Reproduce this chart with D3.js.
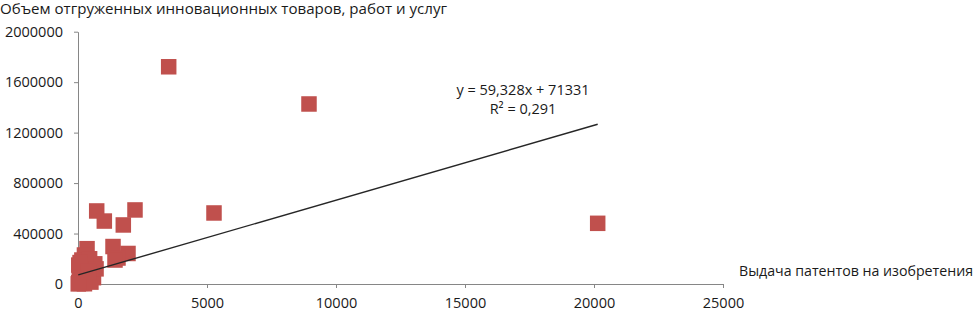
<!DOCTYPE html>
<html lang="ru">
<head>
<meta charset="utf-8">
<title>Scatter</title>
<script src="https://cdn.jsdelivr.net/npm/d3@7"></script>
<style>
  body { margin: 0; background: #fff; }
  text { font-family: "Open Sans", "Noto Sans", sans-serif; fill: #1a1a1a; }
</style>
</head>
<body>
<svg id="chart" width="977" height="312"></svg>
<script>
// patents granted (x) vs. shipped innovative goods (y)
var patents = [3515, 8953, 20143, 5271, 2209, 725, 1020, 1756, 1357, 1938, 1550, 1434,
               350, 250, 30, 150, 450, 650, 500, 300, 100, 200, 400, 50, 600, 300, 150,
               500, 30, 100, 250, 10, 700, 80, 400];
var shipped = [1722000, 1427000, 481000, 563000, 587000, 579000, 499000, 468000, 297000, 242000, 206000, 190000,
               280000, 230000, 150000, 190000, 200000, 160000, 130000, 150000, 120000, 90000, 70000, 60000, 50000, 40000, 30000,
               15000, 10000, 5000, 2000, 1000, 120000, 170000, 100000];
var xTicks = [0, 5000, 10000, 15000, 20000, 25000];
var yTicks = [0, 400000, 800000, 1200000, 1600000, 2000000];
var slope = 59.328, intercept = 71331;
var eqLabel = "y = 59,328x + 71331";
var r2Label = "R² = 0,291";
var xTitle = "Выдача патентов на изобретения";
var yTitle = "Объем отгруженных инновационных товаров, работ и услуг";

var svg = d3.select("#chart");
var x = d3.scaleLinear().domain([0, 25000]).range([78, 723]);
var y = d3.scaleLinear().domain([0, 2000000]).range([284, 31.7]);

var xAxis = svg.append("g")
    .attr("transform", "translate(0," + y(0) + ")")
    .call(d3.axisBottom(x).tickValues(xTicks).tickSize(4).tickSizeOuter(0).tickPadding(10).tickFormat(d3.format("d")));
var yAxis = svg.append("g")
    .attr("transform", "translate(" + x(0) + ",0)")
    .call(d3.axisLeft(y).tickValues(yTicks).tickSize(4).tickSizeOuter(0).tickPadding(11).tickFormat(d3.format("d")));

[xAxis, yAxis].forEach(function (g) {
  g.select(".domain").attr("stroke", "#868686");
  g.selectAll(".tick line").attr("stroke", "#868686");
  g.selectAll(".tick text").attr("font-size", 14.5).attr("fill", "#1a1a1a")
    .style("font-family", "'Open Sans', 'Noto Sans', sans-serif");
});

var pts = patents.map(function (d, i) { return [d, shipped[i]]; });
var s = 15.5;
svg.append("g").selectAll("rect")
  .data(pts)
  .enter().append("rect")
  .attr("x", function (d) { return x(d[0]) - s / 2; })
  .attr("y", function (d) { return y(d[1]) - s / 2; })
  .attr("width", s).attr("height", s)
  .attr("fill", "#C0504D");

var ext = d3.extent(patents);
svg.append("line")
  .attr("x1", x(ext[0])).attr("y1", y(slope * ext[0] + intercept))
  .attr("x2", x(ext[1])).attr("y2", y(slope * ext[1] + intercept))
  .attr("stroke", "#262626").attr("stroke-width", 1.4);

svg.append("text").attr("x", 523).attr("y", 95).attr("text-anchor", "middle")
  .attr("font-size", 14.5).text(eqLabel);
svg.append("text").attr("x", 523).attr("y", 114).attr("text-anchor", "middle")
  .attr("font-size", 14.5).text(r2Label);

svg.append("text").attr("x", 739).attr("y", 276).attr("font-size", 14.5)
  .attr("textLength", 234).attr("lengthAdjust", "spacingAndGlyphs").text(xTitle);
svg.append("text").attr("x", 0).attr("y", 14).attr("font-size", 14.5)
  .attr("textLength", 447).attr("lengthAdjust", "spacingAndGlyphs").text(yTitle);
</script>
</body>
</html>
